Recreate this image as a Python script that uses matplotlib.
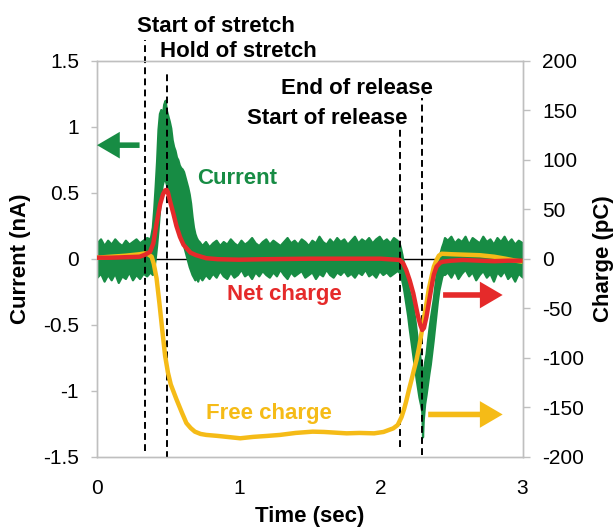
import matplotlib
matplotlib.use("Agg")
import matplotlib.pyplot as plt

plt.rcParams['font.family'] = ['Liberation Sans', 'DejaVu Sans']

# ---------------- data ----------------
x_ticks = [0, 1, 2, 3]
x_tick_labels = ["0", "1", "2", "3"]
cur_ticks = [-1.5, -1.0, -0.5, 0.0, 0.5, 1.0, 1.5]
cur_tick_labels = ["-1.5", "-1", "-0.5", "0", "0.5", "1", "1.5"]
chg_ticks = [-200, -150, -100, -50, 0, 50, 100, 150, 200]
chg_tick_labels = ["-200", "-150", "-100", "-50", "0", "50", "100", "150", "200"]

# Current (nA): noisy trace shown as its upper / lower envelope
cur_time = [
    0.000, 0.025, 0.050, 0.075, 0.100, 0.125, 0.150, 0.175, 0.200, 0.225, 0.250, 0.275, 0.300, 0.325, 0.350, 0.375,
    0.39, 0.40, 0.41, 0.42, 0.43, 0.44, 0.45, 0.46, 0.47, 0.48, 0.49, 0.50, 0.51, 0.52, 0.53, 0.54, 0.55, 0.56,
    0.57, 0.58, 0.59, 0.60, 0.61, 0.62, 0.63, 0.64, 0.65, 0.66, 0.67, 0.68, 0.69, 0.70, 0.71, 0.72,
    0.740, 0.765, 0.790, 0.815, 0.840, 0.865, 0.890, 0.915, 0.940, 0.965, 0.990, 1.015, 1.040, 1.065,
    1.090, 1.115, 1.140, 1.165, 1.190, 1.215, 1.240, 1.265, 1.290, 1.315, 1.340, 1.365, 1.390, 1.415,
    1.440, 1.465, 1.490, 1.515, 1.540, 1.565, 1.590, 1.615, 1.640, 1.665, 1.690, 1.715, 1.740, 1.765,
    1.790, 1.815, 1.840, 1.865, 1.890, 1.915, 1.940, 1.965, 1.990, 2.015, 2.040, 2.065, 2.090, 2.115,
    2.13, 2.14, 2.15, 2.16, 2.17, 2.18, 2.19, 2.20, 2.21, 2.22, 2.23, 2.24, 2.25, 2.26, 2.27, 2.28, 2.29,
    2.295, 2.30, 2.31, 2.32, 2.33, 2.34, 2.35, 2.36, 2.37, 2.38, 2.39, 2.40, 2.41, 2.42, 2.43, 2.44, 2.45,
    2.470, 2.495, 2.520, 2.545, 2.570, 2.595, 2.620, 2.645, 2.670, 2.695, 2.720, 2.745, 2.770, 2.795,
    2.820, 2.845, 2.870, 2.895, 2.920, 2.945, 2.970, 3.000,
]
cur_upper = [
    0.12, 0.15, 0.10, 0.14, 0.11, 0.15, 0.12, 0.10, 0.14, 0.11, 0.13, 0.15, 0.12, 0.14, 0.16, 0.15,
    0.24, 0.38, 0.55, 0.74, 0.98, 1.10, 1.13, 1.08, 1.17, 1.20, 1.12, 1.08, 1.04, 0.99, 0.90, 0.85, 0.82, 0.77,
    0.75, 0.71, 0.69, 0.68, 0.66, 0.62, 0.58, 0.54, 0.49, 0.42, 0.32, 0.24, 0.19, 0.16, 0.14, 0.13,
    0.10, 0.13, 0.09, 0.12, 0.14, 0.10, 0.13, 0.11, 0.15, 0.12, 0.10, 0.14, 0.11, 0.13,
    0.16, 0.12, 0.10, 0.13, 0.15, 0.11, 0.14, 0.12, 0.10, 0.13, 0.16, 0.12, 0.14, 0.11,
    0.15, 0.13, 0.10, 0.14, 0.12, 0.17, 0.13, 0.11, 0.15, 0.12, 0.16, 0.13, 0.15, 0.11,
    0.14, 0.17, 0.12, 0.15, 0.13, 0.16, 0.12, 0.15, 0.17, 0.13, 0.15, 0.12, 0.16, 0.14,
    0.12, 0.08, 0.03, -0.03, -0.09, -0.14, -0.19, -0.24, -0.28, -0.32, -0.38, -0.45, -0.54, -0.63, -0.70, -0.77, -0.83,
    -0.86, -0.86, -0.78, -0.72, -0.62, -0.53, -0.45, -0.38, -0.31, -0.22, -0.13, -0.06, 0.00, 0.05, 0.09, 0.12, 0.16,
    0.14, 0.17, 0.12, 0.15, 0.13, 0.17, 0.11, 0.16, 0.14, 0.12, 0.17, 0.13, 0.15, 0.11,
    0.16, 0.13, 0.17, 0.12, 0.15, 0.11, 0.14, 0.12,
]
cur_lower = [
    -0.14, -0.11, -0.17, -0.12, -0.16, -0.11, -0.18, -0.13, -0.15, -0.10, -0.16, -0.12, -0.15, -0.11, -0.13, -0.10,
    -0.12, -0.08, 0.00, 0.10, 0.22, 0.36, 0.48, 0.56, 0.60, 0.60, 0.56, 0.50, 0.46, 0.42, 0.38, 0.34, 0.30, 0.27,
    0.24, 0.20, 0.17, 0.14, 0.10, 0.06, 0.02, -0.02, -0.06, -0.09, -0.12, -0.14, -0.16, -0.14, -0.17, -0.13,
    -0.16, -0.12, -0.15, -0.11, -0.14, -0.09, -0.13, -0.15, -0.10, -0.14, -0.12, -0.08, -0.13, -0.11,
    -0.15, -0.10, -0.13, -0.09, -0.12, -0.14, -0.10, -0.13, -0.08, -0.12, -0.15, -0.10, -0.13, -0.11,
    -0.09, -0.14, -0.12, -0.10, -0.15, -0.11, -0.13, -0.08, -0.12, -0.14, -0.10, -0.12, -0.09, -0.13,
    -0.11, -0.14, -0.10, -0.12, -0.08, -0.13, -0.11, -0.14, -0.09, -0.12, -0.10, -0.13, -0.11, -0.09,
    -0.10, -0.13, -0.17, -0.22, -0.29, -0.36, -0.43, -0.52, -0.60, -0.68, -0.76, -0.83, -0.91, -0.98, -1.05, -1.10, -1.16,
    -1.35, -1.22, -1.10, -1.03, -0.95, -0.87, -0.80, -0.71, -0.62, -0.52, -0.42, -0.32, -0.24, -0.19, -0.14, -0.11, -0.12,
    -0.10, -0.14, -0.09, -0.15, -0.11, -0.08, -0.13, -0.10, -0.16, -0.12, -0.09, -0.14, -0.11, -0.17,
    -0.10, -0.13, -0.09, -0.15, -0.12, -0.17, -0.11, -0.14,
]

# Net charge (pC)
net_time = [0.0, 0.1, 0.2, 0.3, 0.338, 0.374, 0.397, 0.42, 0.445, 0.465, 0.48, 0.491, 0.50, 0.515,
            0.538, 0.56, 0.585, 0.61, 0.632, 0.66, 0.70, 0.77, 0.85, 1.0, 1.2, 1.5, 1.8, 2.0, 2.135,
            2.16, 2.18, 2.205, 2.23, 2.25, 2.264, 2.28, 2.293, 2.305, 2.323, 2.34, 2.359, 2.375, 2.394,
            2.42, 2.44, 2.5, 2.58, 2.7, 2.8, 2.9, 3.0]
net_charge = [1, 1, 1.5, 2, 4, 7, 15.5, 35.7, 55, 65, 69, 69.5, 67, 58,
              45.8, 33, 22, 14, 10.5, 6, 3.5, 0.5, -0.5, -1, -0.5, 0, 0, 0, -1.3,
              -5, -11.4, -22, -35, -49, -58.6, -67, -72, -70, -58.6, -44, -28, -16, -8,
              -4, -3, -2, -1.3, -2, -2.5, -2, -2]

# Free charge (pC)
free_time = [0.0, 0.1, 0.2, 0.3, 0.338, 0.36, 0.385, 0.40, 0.42, 0.44, 0.46, 0.48, 0.50, 0.52,
             0.56, 0.60, 0.63, 0.66, 0.69, 0.73, 0.77, 0.85, 0.95, 1.01, 1.1, 1.2, 1.29, 1.4,
             1.52, 1.6, 1.76, 1.85, 1.954, 2.02, 2.088, 2.12, 2.147, 2.165, 2.18, 2.2, 2.218,
             2.235, 2.253, 2.27, 2.288, 2.305, 2.323, 2.34, 2.359, 2.375, 2.394, 2.41, 2.43, 2.5,
             2.6, 2.7, 2.8, 2.88, 2.95, 3.0]
free_charge = [1, 2, 3, 4.5, 5.4, 4.5, 2, -5, -20, -45, -72, -98, -115, -127,
               -142, -156, -166, -171, -174.7, -177, -178, -179, -180.5, -181.4, -180, -179, -178, -176,
               -174.7, -175, -176.4, -176, -176.4, -175, -171.4, -168, -160, -152, -144, -132, -122,
               -112, -102, -90, -75, -60, -45, -30, -18, -8, -1.3, 3, 5, 4.5,
               4, 3.5, 2, 0, -2, -3]

# Event markers (time, top of dashed line in nA, bottom in nA)
event_times = [0.338, 0.491, 2.135, 2.288]
event_tops = [1.66, 1.42, 0.99, 1.22]
event_bottoms = [-1.46, -1.51, -1.43, -1.49]
event_labels = ["Start of stretch", "Hold of stretch", "Start of release", "End of release"]
event_label_x = [0.836, 1.0, 1.623, 1.836]
event_label_y = [1.76, 1.57, 1.063, 1.292]

GREEN = '#178C44'
RED = '#E52A2A'
YELLOW = '#F5BB17'
GRAY = '#BFBFBF'

# ---------------- figure ----------------
fig = plt.figure(figsize=(6.14, 5.30), dpi=100)
ax = fig.add_axes([0.158, 0.1383, 0.693, 0.7472])
ax.set_xlim(0, 3)
ax.set_ylim(-1.5, 1.5)

ax.axhline(0, color='black', lw=1.0, zorder=1)
ax.fill_between(cur_time, cur_lower, cur_upper, color=GREEN, lw=1.6, edgecolor=GREEN, zorder=2)

for t, top, bot in zip(event_times, event_tops, event_bottoms):
    ax.plot([t, t], [bot, top], color='black', lw=1.4, dashes=(3.5, 2.2), clip_on=False, zorder=5)
for lab, lx, ly in zip(event_labels, event_label_x, event_label_y):
    ax.text(lx, ly, lab, ha='center', va='center', fontsize=16, fontweight='bold', clip_on=False)

ax.set_xticks(x_ticks)
ax.set_xticklabels(x_tick_labels)
ax.set_yticks(cur_ticks)
ax.set_yticklabels(cur_tick_labels)
ax.tick_params(axis='x', length=0, pad=16, labelsize=15)
ax.tick_params(axis='y', direction='out', length=4, width=1, color=GRAY, labelsize=15, pad=9)
for s in ax.spines.values():
    s.set_color(GRAY)
    s.set_linewidth(1)

ax2 = ax.twinx()
ax2.set_ylim(-200, 200)
ax2.plot(free_time, free_charge, color=YELLOW, lw=3.2, solid_capstyle='butt', zorder=3)
ax2.plot(net_time, net_charge, color=RED, lw=3.2, solid_capstyle='butt', zorder=4)
ax2.set_yticks(chg_ticks)
ax2.set_yticklabels(chg_tick_labels)
ax2.tick_params(axis='y', direction='out', length=5, width=1, color=GRAY, labelsize=15, pad=9)
for s in ax2.spines.values():
    s.set_color(GRAY)
    s.set_linewidth(1)

# series labels
ax.text(0.99, 0.61, "Current", color=GREEN, fontsize=16, fontweight='bold', ha='center', va='center')
ax.text(1.32, -0.275, "Net charge", color=RED, fontsize=16, fontweight='bold', ha='center', va='center')
ax.text(1.21, -1.17, "Free charge", color=YELLOW, fontsize=16, fontweight='bold', ha='center', va='center')

# arrows
arrow_style = 'simple,head_length=0.41,head_width=0.48,tail_width=0.1'
for tip, tail, y, c in [(0.0, 0.30, 0.86, GREEN), (2.86, 2.44, -0.275, RED), (2.86, 2.335, -1.18, YELLOW)]:
    ax2.annotate('', xy=(tip, y * 200 / 1.5), xytext=(tail, y * 200 / 1.5),
                 arrowprops=dict(arrowstyle=arrow_style, color=c, lw=0, mutation_scale=40,
                                 shrinkA=0, shrinkB=0), annotation_clip=False, zorder=6)

fig.text(309.8 / 614, 1 - 516.7 / 530, "Time (sec)", ha='center', va='center', fontsize=16, fontweight='bold')
fig.text(21 / 614, 1 - 259 / 530, "Current (nA)", ha='center', va='center', rotation=90, fontsize=16, fontweight='bold')
fig.text(603 / 614, 1 - 259 / 530, "Charge (pC)", ha='center', va='center', rotation=90, fontsize=16, fontweight='bold')

fig.savefig("out.png", dpi=100)
